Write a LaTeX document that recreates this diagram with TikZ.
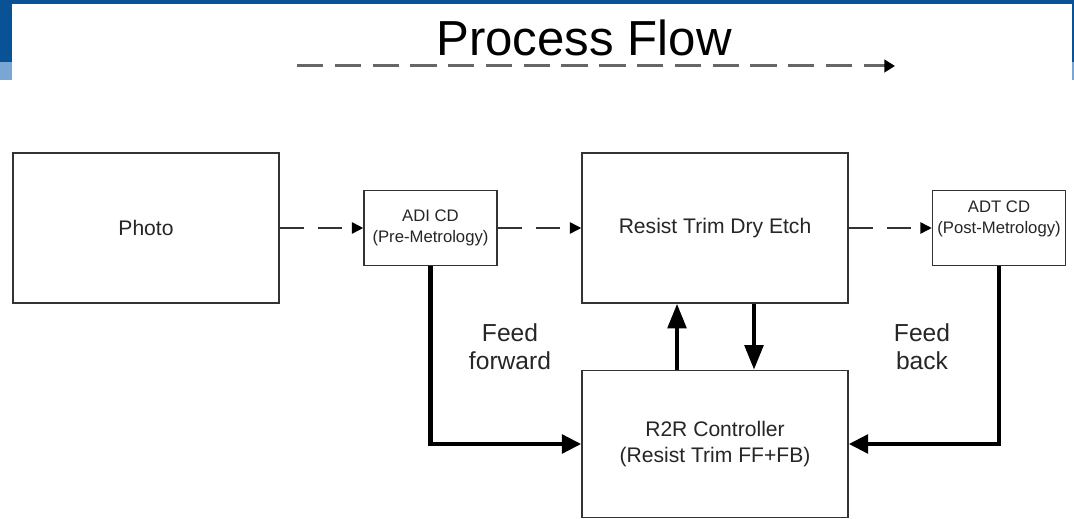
\documentclass[tikz,border=0pt]{standalone}
\usepackage{fontspec}
\setmainfont{Liberation Sans}
\usetikzlibrary{arrows.meta}

\definecolor{slideblue}{RGB}{10,82,150}
\definecolor{slidelight}{RGB}{122,166,214}

\begin{document}
\begin{tikzpicture}[x=0.02cm,y=-0.02cm,
    blk/.style={draw=black!80, line width=0.9pt, fill=white, align=center, text=black!85, font=\fontsize{12}{14.5}\selectfont},
    bigblk/.style={blk, minimum width=5.32cm, minimum height=3cm},
    smallblk/.style={blk, minimum width=2.66cm, minimum height=1.5cm, font=\fontsize{9.5}{11.5}\selectfont},
    flow/.style={draw=black!80, line width=0.9pt, dash pattern=on 14pt off 7.5pt, -{Triangle[length=6.5pt,width=6.5pt,color=black]}},
    ctrl/.style={line width=2.4pt, -{Triangle[length=11pt,width=10.5pt]}},
    vctrl/.style={ctrl, -{Triangle[length=14pt,width=10.5pt]}},
    lbl/.style={align=center, text=black!85, font=\fontsize{14}{16}\selectfont}
]

\useasboundingbox (0,0) rectangle (1074,519);

% slide frame
\fill[slideblue] (0,0) rectangle (1074,4);
\fill[slideblue] (0,0) rectangle (12,62);
\fill[slidelight] (0,62) rectangle (12,80);
\fill[slideblue] (1072,0) rectangle (1074,62);
\fill[slidelight] (1072,62) rectangle (1074,80);

% title
\node[font=\fontsize{28}{30}\selectfont] (title) at (584,38) {Process Flow};
\coordinate (pfstart) at (297,66);
\coordinate (pfend) at (895,66);
\draw[draw=black!60, line width=1.7pt, dash pattern=on 15pt off 6.5pt, -{Triangle[length=6pt,width=7pt,color=black]}] (pfstart) -- (pfend);

% blocks
\node[bigblk] (photo) at (146,228) {Photo};
\node[smallblk] (adi) at (430.5,228) {ADI CD\\(Pre-Metrology)};
\node[bigblk] (etch) at (715,228) {Resist Trim Dry Etch};
\node[smallblk, label={[anchor=north, yshift=-3pt, align=center, text=black!85, font=\fontsize{9.5}{11.5}\selectfont]north:ADT CD\\(Post-Metrology)}] (adt) at (999,228) {};
\node[bigblk, minimum height=2.94cm] (r2r) at (715,444) {R2R Controller\\(Resist Trim FF+FB)};

% process flow
\draw[flow] (photo.east) -- (adi.west);
\draw[flow] (adi.east) -- (etch.west);
\draw[flow] (etch.east) -- (adt.west);

% run to run control
\draw[ctrl] (adi.south) |- (r2r.west);
\draw[ctrl] (adt.south) |- (r2r.east);
\draw[vctrl] ([xshift=-0.76cm]r2r.north) -- ([xshift=-0.76cm]etch.south);
\draw[vctrl] ([xshift=0.78cm]etch.south) -- ([xshift=0.78cm]r2r.north);

\node[lbl] (ff) at (510,347) {Feed\\forward};
\node[lbl] (fb) at (922,347) {Feed\\back};

\end{tikzpicture}
\end{document}
